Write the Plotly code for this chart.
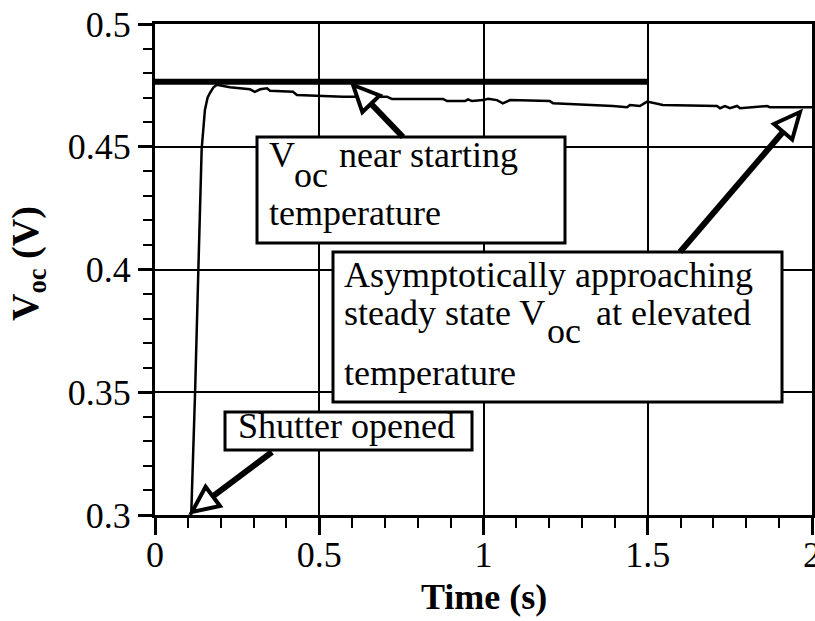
import plotly.graph_objects as go

# ---------------- data ----------------
time_s = [0.110, 0.117, 0.122, 0.132, 0.142, 0.152, 0.160, 0.167, 0.178, 0.188,
          0.228, 0.289, 0.304, 0.320, 0.341, 0.350, 0.420, 0.432, 0.572, 0.706,
          0.721, 0.877, 0.889, 0.944, 0.953, 0.965, 0.998, 1.014, 1.041, 1.059,
          1.081, 1.202, 1.212, 1.394, 1.437, 1.446, 1.476, 1.498, 1.528, 1.546,
          1.711, 1.720, 1.735, 1.750, 1.772, 1.781, 1.863, 1.872, 1.988, 2.000]
voc_v = [0.299, 0.325, 0.350, 0.400, 0.449, 0.465, 0.4700, 0.4719, 0.4742, 0.4752,
         0.4742, 0.4734, 0.4724, 0.4734, 0.4738, 0.4728, 0.4724, 0.4711, 0.4704, 0.4704,
         0.4695, 0.4695, 0.4686, 0.4686, 0.4693, 0.4686, 0.4690, 0.4695, 0.4690, 0.4677,
         0.4690, 0.4686, 0.4677, 0.4666, 0.4661, 0.4670, 0.4666, 0.4684, 0.4677, 0.4670,
         0.4666, 0.4657, 0.4666, 0.4657, 0.4666, 0.4657, 0.4666, 0.4661, 0.4661, 0.4661]
ref_time = [0.0, 1.5]
ref_voc = [0.4765, 0.4765]

x_ticks = [0, 0.5, 1, 1.5, 2]
y_ticks = [0.3, 0.35, 0.4, 0.45, 0.5]

# ---------------- layout geometry ----------------
W, H = 815, 621
ML, MR, MT, MB = 155, 3, 24, 106
PW, PH = W - ML - MR, H - MT - MB
FONT = "Liberation Serif"
FS = 36


def pp(px, py):
    """pixel -> paper coordinates"""
    return (px - ML) / PW, (H - MB - py) / PH


fig = go.Figure()
fig.add_trace(go.Scatter(x=time_s, y=voc_v, mode="lines",
                         line=dict(color="black", width=2.5), hoverinfo="skip"))
fig.add_trace(go.Scatter(x=ref_time, y=ref_voc, mode="lines",
                         line=dict(color="black", width=6), hoverinfo="skip"))

shapes = []
annotations = []

# boxes (pixel rects)
boxes = [(257, 137, 565, 243), (333, 252, 782, 402), (225, 412, 472, 450)]
for (x0, y0, x1, y1) in boxes:
    a0, b0 = pp(x0, y1)
    a1, b1 = pp(x1, y0)
    shapes.append(dict(type="rect", xref="paper", yref="paper", x0=a0, y0=b0, x1=a1, y1=b1,
                       fillcolor="white", line=dict(color="black", width=3), layer="above"))

# arrows (pixel tail -> tip), hollow heads
arrows = [((403, 137), (353, 85)), ((680, 252), (800, 112)), ((272, 452), (192, 512))]
for (tx, ty), (hx, hy) in arrows:
    dx, dy = hx - tx, hy - ty
    d = (dx * dx + dy * dy) ** 0.5
    ux, uy = dx / d, dy / d
    L, Wd = 26, 24
    bx, by = hx - L * ux, hy - L * uy
    nx, ny = -uy, ux
    c1 = (bx + Wd / 2 * nx, by + Wd / 2 * ny)
    c2 = (bx - Wd / 2 * nx, by - Wd / 2 * ny)
    s0 = pp(tx, ty)
    s1 = pp(bx, by)
    shapes.append(dict(type="line", xref="paper", yref="paper", x0=s0[0], y0=s0[1],
                       x1=s1[0], y1=s1[1], line=dict(color="black", width=6), layer="above"))
    p_tip, p1, p2 = pp(hx, hy), pp(*c1), pp(*c2)
    path = f"M {p_tip[0]},{p_tip[1]} L {p1[0]},{p1[1]} L {p2[0]},{p2[1]} Z"
    shapes.append(dict(type="path", xref="paper", yref="paper", path=path,
                       fillcolor="white", line=dict(color="black", width=4), layer="above"))

# text pieces: (text, left px, baseline px)
texts = [
    ("V", 268, 167), ("oc", 293, 187), ("near starting", 338, 167), ("temperature", 268, 225),
    ("Asymptotically approaching", 343, 287), ("steady state V", 343, 325), ("oc", 546, 343),
    ("at elevated", 595, 325), ("temperature", 343, 385),
    ("Shutter opened", 237, 438),
]
for t, lx, base in texts:
    ax_, ay_ = pp(lx, base - 12)
    annotations.append(dict(text=t, x=ax_, y=ay_, xref="paper", yref="paper",
                            xanchor="left", yanchor="middle", showarrow=False,
                            borderpad=0, font=dict(family=FONT, size=FS, color="black")))

# axis titles
tx_, ty_ = pp(484, 597)
annotations.append(dict(text="<b>Time (s)</b>", x=tx_, y=ty_, xref="paper", yref="paper",
                        xanchor="center", yanchor="middle", showarrow=False,
                        font=dict(family=FONT, size=FS, color="black")))
yx_, yy_ = pp(28, 264)
annotations.append(dict(text="<b>V<sub>oc</sub> (V)</b>", x=yx_, y=yy_, xref="paper", yref="paper",
                        xanchor="center", yanchor="middle", showarrow=False, textangle=-90,
                        font=dict(family=FONT, size=38, color="black")))

axis_common = dict(showline=True, linecolor="black", linewidth=3, mirror=True,
                   showgrid=True, gridcolor="black", gridwidth=2, zeroline=False,
                   ticks="outside", tickcolor="black", tickwidth=3,
                   ticklabeloverflow="allow", automargin=False,
                   tickfont=dict(family=FONT, size=FS, color="black"))

fig.update_layout(
    width=W, height=H, margin=dict(l=ML, r=MR, t=MT, b=MB, pad=0, autoexpand=False),
    paper_bgcolor="white", plot_bgcolor="white", showlegend=False,
    xaxis=dict(range=[0, 2], tickvals=x_ticks, ticktext=[str(v) for v in x_ticks], ticklen=17,
               ticklabelstandoff=-11,
               minor=dict(dtick=0.1, ticks="outside", ticklen=10, tickwidth=2,
                          tickcolor="black", showgrid=False),
               **axis_common),
    yaxis=dict(range=[0.3, 0.5], tickvals=y_ticks, ticktext=[str(v) for v in y_ticks], ticklen=14,
               minor=dict(dtick=0.01, ticks="outside", ticklen=9, tickwidth=2,
                          tickcolor="black", showgrid=False),
               **axis_common),
    shapes=shapes, annotations=annotations,
)

fig.write_html("out.html")
